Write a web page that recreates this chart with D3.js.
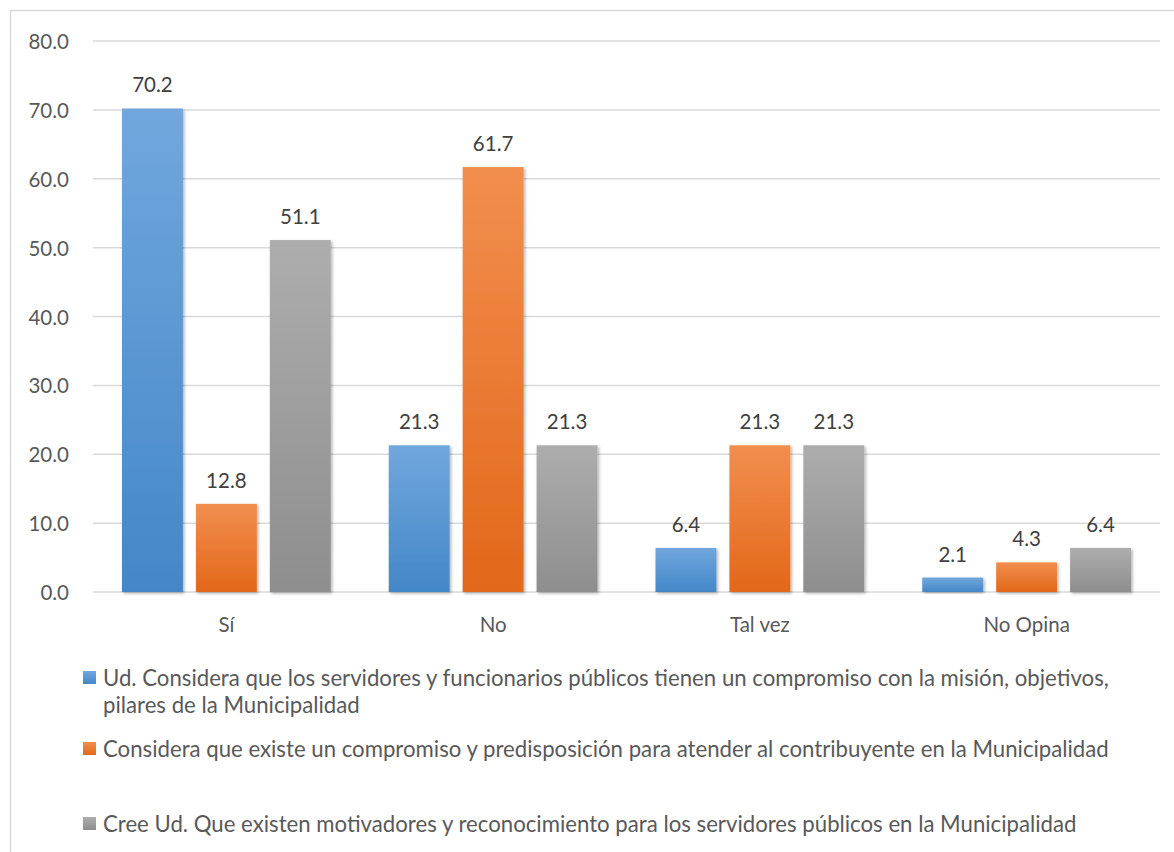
<!DOCTYPE html>
<html><head><meta charset="utf-8">
<script src="https://cdn.jsdelivr.net/npm/d3@7"></script>
<style>
html,body{margin:0;padding:0;background:#fff;}
svg{display:block;}
text{font-family:Lato,"Open Sans",sans-serif;}
</style></head>
<body>
<svg id="chart" width="1174" height="852"></svg>
<script>
const categories = ["Sí", "No", "Tal vez", "No Opina"];
const seriesNames = [
  "Ud. Considera que los servidores y funcionarios públicos tienen un compromiso con la misión, objetivos,|pilares de la Municipalidad",
  "Considera que existe un compromiso y predisposición para atender al contribuyente en la Municipalidad",
  "Cree Ud. Que existen motivadores y reconocimiento para los servidores públicos en la Municipalidad"
];
const serie1 = [70.2, 21.3, 6.4, 2.1];
const serie2 = [12.8, 61.7, 21.3, 4.3];
const serie3 = [51.1, 21.3, 21.3, 6.4];
const yTicks = [0, 10, 20, 30, 40, 50, 60, 70, 80];

const seriesValues = [serie1, serie2, serie3];
const colors = [
  {top:"#71A7DD", bottom:"#4387C8"},
  {top:"#F28E4E", bottom:"#E2681A"},
  {top:"#ADADAD", bottom:"#8E8E8E"}
];

const svg = d3.select("#chart");
const defs = svg.append("defs");
colors.forEach((c,i)=>{
  const g = defs.append("linearGradient").attr("id","grad"+i)
    .attr("x1",0).attr("y1",0).attr("x2",0).attr("y2",1);
  g.append("stop").attr("offset","0%").attr("stop-color",c.top);
  g.append("stop").attr("offset","100%").attr("stop-color",c.bottom);
});
const f = defs.append("filter").attr("id","shadow").attr("x","-20%").attr("y","-5%").attr("width","140%").attr("height","115%");
f.append("feDropShadow").attr("dx",1.5).attr("dy",1.5).attr("stdDeviation",1.5).attr("flood-color","#000").attr("flood-opacity",0.3);

// border
svg.append("rect").attr("x",10.5).attr("y",10.5).attr("width",1300).attr("height",1000)
  .attr("fill","none").attr("stroke","#D9D9D9").attr("stroke-width",1.5);

const plotLeft = 93, plotRight = 1160, plotTop = 41, plotBottom = 592;
const x0 = d3.scaleBand().domain(categories).range([plotLeft, plotRight]).padding(0);
const x1 = d3.scaleBand().domain([0,1,2]).range([29, x0.bandwidth()-29]).paddingInner(0.176).paddingOuter(0);
const y = d3.scaleLinear().domain([0,80]).range([plotBottom, plotTop]);

const numSize = 20.5;

// gridlines
svg.append("g").selectAll("line").data(yTicks).join("line")
  .attr("x1",plotLeft).attr("x2",plotRight)
  .attr("y1",d=>y(d)).attr("y2",d=>y(d))
  .attr("stroke","#D9D9D9").attr("stroke-width",1.5);

// y labels
svg.append("g").selectAll("text").data(yTicks).join("text")
  .attr("x",69).attr("y",d=>y(d)+8)
  .attr("text-anchor","end").attr("font-size",numSize).attr("fill","#595959")
  .text(d=>d.toFixed(1));

// bars
const groups = svg.append("g").selectAll("g").data(categories).join("g")
  .attr("transform",d=>`translate(${x0(d)},0)`);
groups.selectAll("rect").data((d,ci)=>seriesValues.map((s,si)=>({si, v:s[ci]}))).join("rect")
  .attr("x",d=>x1(d.si)).attr("width",x1.bandwidth())
  .attr("y",d=>y(d.v)).attr("height",d=>y(0)-y(d.v))
  .attr("fill",d=>`url(#grad${d.si})`).attr("filter","url(#shadow)");
groups.selectAll("text").data((d,ci)=>seriesValues.map((s,si)=>({si, v:s[ci]}))).join("text")
  .attr("x",d=>x1(d.si)+x1.bandwidth()/2).attr("y",d=>y(d.v)-16)
  .attr("text-anchor","middle").attr("font-size",numSize).attr("fill","#404040")
  .text(d=>d.v.toFixed(1));

// x labels
svg.append("g").selectAll("text").data(categories).join("text")
  .attr("x",d=>x0(d)+x0.bandwidth()/2).attr("y",632)
  .attr("text-anchor","middle").attr("font-size",numSize).attr("fill","#595959")
  .text(d=>d);

// legend
const legendY = [686, 757, 832];
const leg = svg.append("g");
seriesNames.forEach((name,i)=>{
  leg.append("rect").attr("x",83).attr("y",legendY[i]-15).attr("width",13).attr("height",13)
    .attr("fill",`url(#grad${i})`);
  const t = leg.append("text").attr("x",103).attr("y",legendY[i])
    .attr("font-size",22.2).attr("fill","#595959");
  name.split("|").forEach((ln,k)=>{
    t.append("tspan").attr("x",103).attr("dy",k===0?0:27).text(ln);
  });
});
</script>
</body></html>
